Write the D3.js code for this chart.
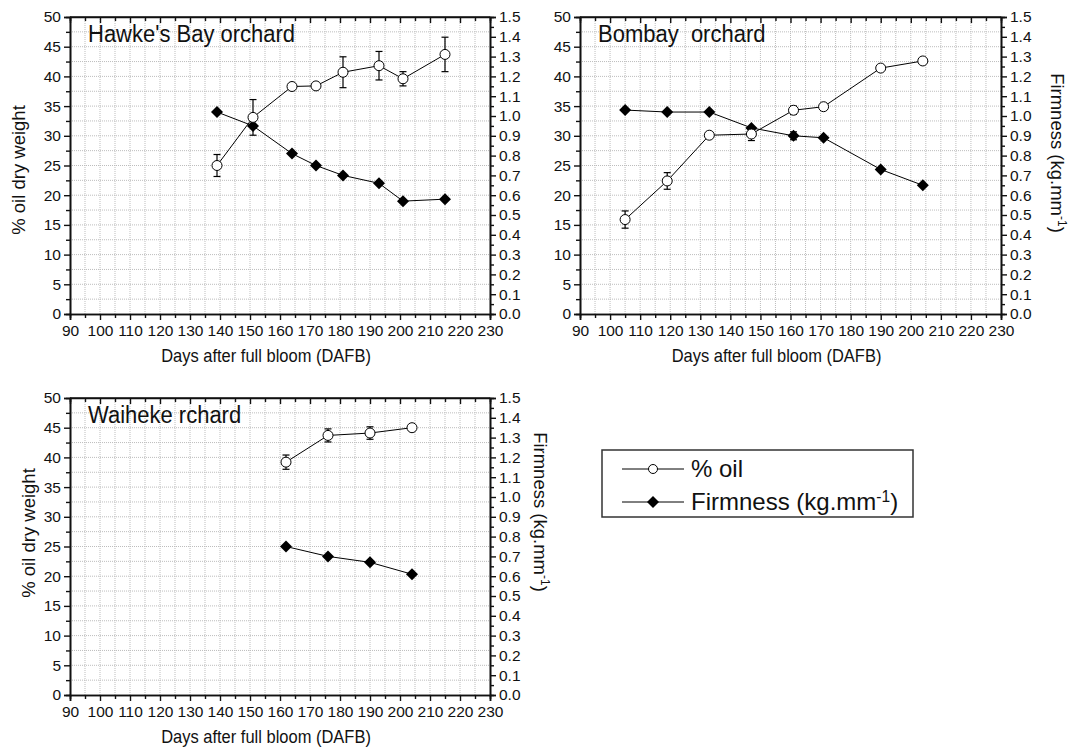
<!DOCTYPE html>
<html>
<head>
<meta charset="utf-8">
<script src="https://cdn.jsdelivr.net/npm/d3@7"></script>
<style>
  body { margin: 0; background: #fff; }
  text { font-family: Arial, "Liberation Sans", sans-serif; fill: #111; }
</style>
</head>
<body>
<svg width="1070" height="749"></svg>
<script>
// Hawke's Bay orchard
const hbDays = [139, 151, 164, 172, 181, 193, 201, 215];
const hbOil = [25.0, 33.1, 38.3, 38.4, 40.7, 41.8, 39.6, 43.7];
const hbOilErr = [1.85, 3.0, 0.3, 0.3, 2.6, 2.4, 1.2, 2.9];
const hbFirm = [1.02, 0.95, 0.81, 0.75, 0.70, 0.66, 0.57, 0.58];

// Bombay orchard
const bmDays = [105, 119, 133, 147, 161, 171, 190, 204];
const bmOil = [15.9, 22.4, 30.1, 30.3, 34.3, 34.9, 41.4, 42.6];
const bmOilErr = [1.45, 1.4, 0.3, 1.1, 0.7, 0.4, 0, 0];
const bmFirm = [1.03, 1.02, 1.02, 0.94, 0.90, 0.89, 0.73, 0.65];
const bmFirmErr = [0, 0, 0, 0, 0.02, 0, 0, 0];

// Waiheke orchard
const wkDays = [162, 176, 190, 204];
const wkOil = [39.2, 43.7, 44.1, 45.0];
const wkOilErr = [1.2, 1.1, 1.05, 0.5];
const wkFirm = [0.75, 0.70, 0.67, 0.61];

const xTicks = d3.range(90, 231, 10);
const oilTicks = d3.range(0, 51, 5);
const firmTicks = d3.range(0, 16, 1).map(d => d / 10);

const svg = d3.select('svg');

// panel layout
const panels = [
  {title: "Hawke's Bay orchard", days: hbDays, oil: hbOil, oilErr: hbOilErr, firm: hbFirm, firmErr: null,
   x0: 70, x1: 490, y0: 17, y1: 314, leftLabel: [19, 170], rightLabel: null},
  {title: 'Bombay\u00a0 orchard', days: bmDays, oil: bmOil, oilErr: bmOilErr, firm: bmFirm, firmErr: bmFirmErr,
   x0: 580, x1: 1001, y0: 17, y1: 314, leftLabel: null, rightLabel: [1057, 153]},
  {title: 'Waiheke rchard', days: wkDays, oil: wkOil, oilErr: wkOilErr, firm: wkFirm, firmErr: null,
   x0: 70, x1: 490, y0: 398, y1: 695, leftLabel: [29, 533], rightLabel: [540, 512]}
];

function diamond(g, x, y, r) {
  g.append('path')
    .attr('d', `M${x},${y - r}L${x + r},${y}L${x},${y + r}L${x - r},${y}Z`)
    .attr('fill', '#000');
}

function firmLabel(t) {
  t.append('tspan').text('Firmness (kg.mm');
  t.append('tspan').attr('baseline-shift', 'super').attr('font-size', '0.65em').text('-1');
  t.append('tspan').text(')');
}

function errBar(g, cx, lo, hi) {
  const eb = g.append('g').attr('stroke', '#000').attr('stroke-width', 1.2);
  eb.append('line').attr('x1', cx).attr('x2', cx).attr('y1', lo).attr('y2', hi);
  eb.append('line').attr('x1', cx - 3.5).attr('x2', cx + 3.5).attr('y1', lo).attr('y2', lo);
  eb.append('line').attr('x1', cx - 3.5).attr('x2', cx + 3.5).attr('y1', hi).attr('y2', hi);
}

panels.forEach(p => {
  const g = svg.append('g');
  const x = d3.scaleLinear().domain([90, 230]).range([p.x0, p.x1]);
  const y = d3.scaleLinear().domain([0, 50]).range([p.y1, p.y0]);
  const yF = d3.scaleLinear().domain([0, 1.5]).range([p.y1, p.y0]);

  // dotted grid
  const grid = g.append('g').attr('stroke', '#bdbdbd').attr('stroke-width', 1).attr('stroke-dasharray', '1,1');
  d3.range(95, 230, 5).forEach(d => {
    grid.append('line').attr('x1', x(d)).attr('x2', x(d)).attr('y1', p.y0).attr('y2', p.y1);
  });
  d3.range(2.5, 50, 2.5).forEach(d => {
    grid.append('line').attr('x1', p.x0).attr('x2', p.x1).attr('y1', y(d)).attr('y2', y(d));
  });

  // axes
  g.append('g').attr('transform', `translate(0,${p.y1})`)
    .call(d3.axisBottom(x).tickValues(xTicks).tickSize(6).tickPadding(5));
  g.append('g').attr('transform', `translate(0,${p.y1})`)
    .call(d3.axisBottom(x).tickValues(d3.range(95, 230, 10)).tickSize(4).tickFormat(''));
  g.append('g').attr('transform', `translate(${p.x0},0)`)
    .call(d3.axisLeft(y).tickValues(oilTicks).tickSize(6).tickPadding(3));
  g.append('g').attr('transform', `translate(${p.x0},0)`)
    .call(d3.axisLeft(y).tickValues(d3.range(2.5, 50, 5)).tickSize(4).tickFormat(''));
  g.append('g').attr('transform', `translate(${p.x1},0)`)
    .call(d3.axisRight(yF).tickValues(firmTicks).tickSize(6).tickPadding(3).tickFormat(d3.format('.1f')));
  g.append('g').attr('transform', `translate(${p.x1},0)`)
    .call(d3.axisRight(yF).tickValues(d3.range(0.05, 1.5, 0.1)).tickSize(4).tickFormat(''));
  const top = g.append('g').attr('transform', `translate(0,${p.y0})`)
    .call(d3.axisBottom(x).tickValues(xTicks).tickSize(6).tickFormat(''));
  g.append('g').attr('transform', `translate(0,${p.y0})`)
    .call(d3.axisBottom(x).tickValues(d3.range(95, 230, 10)).tickSize(4).tickFormat(''));

  g.selectAll('.domain').attr('stroke', '#111').attr('stroke-width', 1.6);
  g.selectAll('.tick line').attr('stroke', '#111').attr('stroke-width', 1.4);
  g.selectAll('.tick text').attr('font-size', 15.5).attr('fill', '#111')
    .attr('font-family', 'Arial, "Liberation Sans", sans-serif');
  top.select('.domain').remove();
  g.append('line').attr('x1', p.x0).attr('x2', p.x1).attr('y1', p.y0).attr('y2', p.y0)
    .attr('stroke', '#111').attr('stroke-width', 1.6);

  // axis titles
  g.append('text').attr('transform', `translate(${(p.x0 + p.x1) / 2 - 14},${p.y1 + 48}) scale(1,1.12)`)
    .attr('text-anchor', 'middle').attr('font-size', 16.5).text('Days after full bloom (DAFB)');
  if (p.leftLabel) {
    g.append('text').attr('transform', `translate(${p.leftLabel[0]},${p.leftLabel[1]}) rotate(-90)`)
      .attr('text-anchor', 'middle').attr('dy', '0.35em').attr('font-size', 18.5).text('% oil dry weight');
  }
  if (p.rightLabel) {
    g.append('text').attr('transform', `translate(${p.rightLabel[0]},${p.rightLabel[1]}) rotate(90)`)
      .attr('text-anchor', 'middle').attr('dy', '0.35em').attr('font-size', 18.5).call(firmLabel);
  }
  g.append('text').attr('transform', `translate(${p.x0 + 18},${p.y0 + 25}) scale(1,1.12)`)
    .attr('font-size', 22).text(p.title);

  const lineOil = d3.line().x((d, i) => x(p.days[i])).y(d => y(d));
  const lineFirm = d3.line().x((d, i) => x(p.days[i])).y(d => yF(d));

  // firmness series
  g.append('path').attr('d', lineFirm(p.firm)).attr('fill', 'none').attr('stroke', '#000').attr('stroke-width', 1);
  if (p.firmErr) {
    p.firm.forEach((v, i) => {
      const e = p.firmErr[i];
      if (e) errBar(g, x(p.days[i]), yF(v - e), yF(v + e));
    });
  }
  p.firm.forEach((v, i) => diamond(g, x(p.days[i]), yF(v), 6));

  // oil series
  g.append('path').attr('d', lineOil(p.oil)).attr('fill', 'none').attr('stroke', '#000').attr('stroke-width', 1);
  p.oil.forEach((v, i) => {
    const e = p.oilErr[i];
    if (e) errBar(g, x(p.days[i]), y(v - e), y(v + e));
  });
  g.selectAll(null).data(p.oil).enter().append('circle')
    .attr('cx', (d, i) => x(p.days[i])).attr('cy', d => y(d)).attr('r', 5)
    .attr('fill', '#fff').attr('stroke', '#000').attr('stroke-width', 1);
});

// legend
const leg = svg.append('g');
leg.append('rect').attr('x', 602).attr('y', 450).attr('width', 311).attr('height', 67)
  .attr('fill', 'none').attr('stroke', '#333').attr('stroke-width', 1.5);
leg.append('line').attr('x1', 622).attr('x2', 684).attr('y1', 469).attr('y2', 469).attr('stroke', '#000');
leg.append('circle').attr('cx', 653).attr('cy', 469).attr('r', 4.5).attr('fill', '#fff').attr('stroke', '#000');
leg.append('text').attr('x', 691).attr('y', 469).attr('dy', '0.35em').attr('font-size', 24).text('% oil');
leg.append('line').attr('x1', 622).attr('x2', 684).attr('y1', 502).attr('y2', 502).attr('stroke', '#000');
diamond(leg, 653, 502, 6);
leg.append('text').attr('x', 691).attr('y', 502).attr('dy', '0.35em').attr('font-size', 24).call(firmLabel);
</script>
</body>
</html>
